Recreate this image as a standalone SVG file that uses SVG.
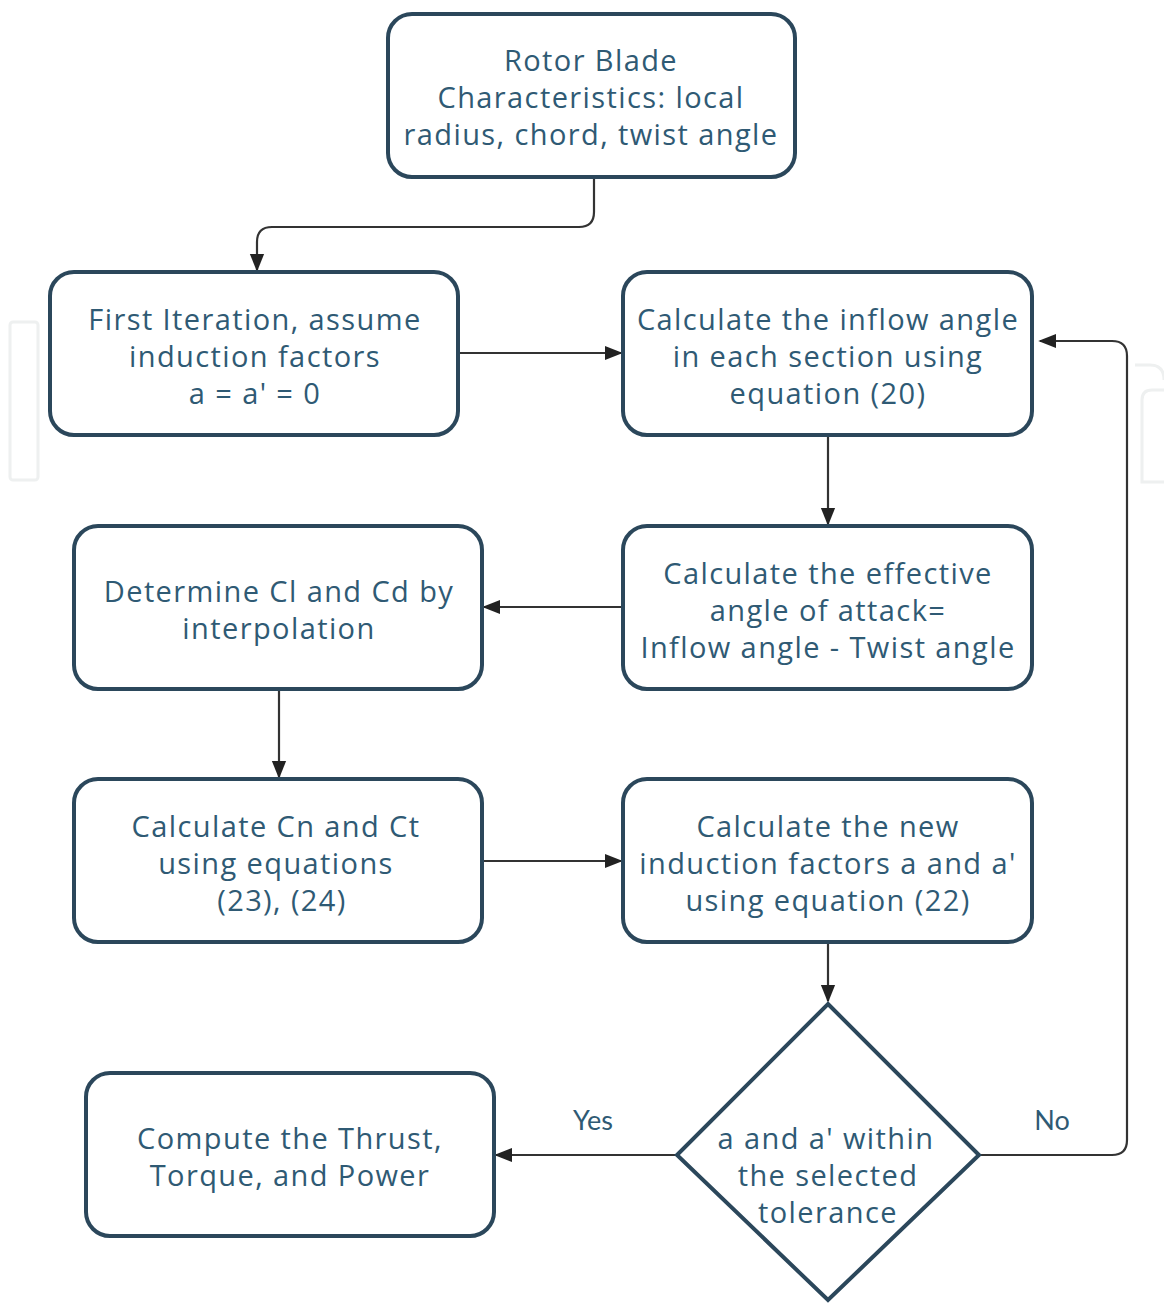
<svg xmlns="http://www.w3.org/2000/svg" width="1164" height="1303" viewBox="0 0 1164 1303">
<style>
.box{fill:#fff;stroke:#2b475b;stroke-width:4}
.t{font-family:"Open Sans",Lato,sans-serif;font-size:29px;letter-spacing:1.4px;fill:#2f5a74;text-anchor:middle}
.l{font-family:Lato,"Open Sans",sans-serif;font-size:27px;fill:#2f5a74;text-anchor:middle}
.c{fill:none;stroke:#333;stroke-width:2.2}
.wm{fill:none;stroke:#eef0f0;stroke-width:3}
</style>
<defs>
<marker id="ah2" viewBox="0 0 10 10" refX="9" refY="5" markerWidth="18" markerHeight="18" markerUnits="userSpaceOnUse" orient="auto">
<path d="M0,1 L10,5 L0,9 z" fill="#222"/>
</marker>
</defs>
<rect width="1164" height="1303" fill="#fff"/>
<g id="watermark">
<rect class="wm" x="10" y="322" width="28" height="158" rx="3"/>
<path class="wm" d="M1135,365 L1150,365 Q1164,365 1164,380 M1142,400 Q1142,390 1152,390 L1164,390 M1142,400 L1142,482 L1164,482"/>
</g>
<g id="connectors">
<path class="c" d="M594,178 L594,212 Q594,227 579,227 L272,227 Q257,227 257,242 L257,270" marker-end="url(#ah2)"/>
<path class="c" d="M458,353 L621,353" marker-end="url(#ah2)"/>
<path class="c" d="M828,436 L828,524" marker-end="url(#ah2)"/>
<path class="c" d="M623,607 L484,607" marker-end="url(#ah2)"/>
<path class="c" d="M279,690 L279,777" marker-end="url(#ah2)"/>
<path class="c" d="M482,861 L621,861" marker-end="url(#ah2)"/>
<path class="c" d="M828,943 L828,1001" marker-end="url(#ah2)"/>
<path class="c" d="M677,1155 L496,1155" marker-end="url(#ah2)"/>
<path class="c" d="M980,1155 L1112,1155 Q1127,1155 1127,1140 L1127,356 Q1127,341 1112,341 L1040,341" marker-end="url(#ah2)"/>
<text class="l" x="593" y="1130">Yes</text>
<text class="l" x="1052" y="1130">No</text>
</g>
<g id="n1">
<rect class="box" x="388" y="14" width="407" height="163" rx="24"/>
<text class="t" x="591" y="71">Rotor Blade</text>
<text class="t" x="591" y="108">Characteristics: local</text>
<text class="t" x="591" y="145">radius, chord, twist angle</text>
</g>
<g id="n2">
<rect class="box" x="50" y="272" width="408" height="163" rx="24"/>
<text class="t" x="255" y="330">First Iteration, assume</text>
<text class="t" x="255" y="367">induction factors</text>
<text class="t" x="255" y="404">a = a' = 0</text>
</g>
<g id="n3">
<rect class="box" x="623" y="272" width="409" height="163" rx="24"/>
<text class="t" x="828" y="330">Calculate the inflow angle</text>
<text class="t" x="828" y="367">in each section using</text>
<text class="t" x="828" y="404">equation (20)</text>
</g>
<g id="n4">
<rect class="box" x="74" y="526" width="408" height="163" rx="24"/>
<text class="t" x="279" y="602">Determine Cl and Cd by</text>
<text class="t" x="279" y="639">interpolation</text>
</g>
<g id="n5">
<rect class="box" x="623" y="526" width="409" height="163" rx="24"/>
<text class="t" x="828" y="584">Calculate the effective</text>
<text class="t" x="828" y="621">angle of attack=</text>
<text class="t" x="828" y="658">Inflow angle - Twist angle</text>
</g>
<g id="n6">
<rect class="box" x="74" y="779" width="408" height="163" rx="24"/>
<text class="t" x="276" y="837">Calculate Cn and Ct</text>
<text class="t" x="276" y="874">using equations</text>
<text class="t" x="282" y="911">(23), (24)</text>
</g>
<g id="n7">
<rect class="box" x="623" y="779" width="409" height="163" rx="24"/>
<text class="t" x="828" y="837">Calculate the new</text>
<text class="t" x="828" y="874">induction factors a and a'</text>
<text class="t" x="828" y="911">using equation (22)</text>
</g>
<g id="n8">
<polygon class="box" points="828,1004 979,1155 828,1300 677,1155"/>
<text class="t" x="826" y="1149">a and a' within</text>
<text class="t" x="828" y="1186">the selected</text>
<text class="t" x="828" y="1223">tolerance</text>
</g>
<g id="n9">
<rect class="box" x="86" y="1073" width="408" height="163" rx="24"/>
<text class="t" x="290" y="1149">Compute the Thrust,</text>
<text class="t" x="290" y="1186">Torque, and Power</text>
</g>
</svg>
